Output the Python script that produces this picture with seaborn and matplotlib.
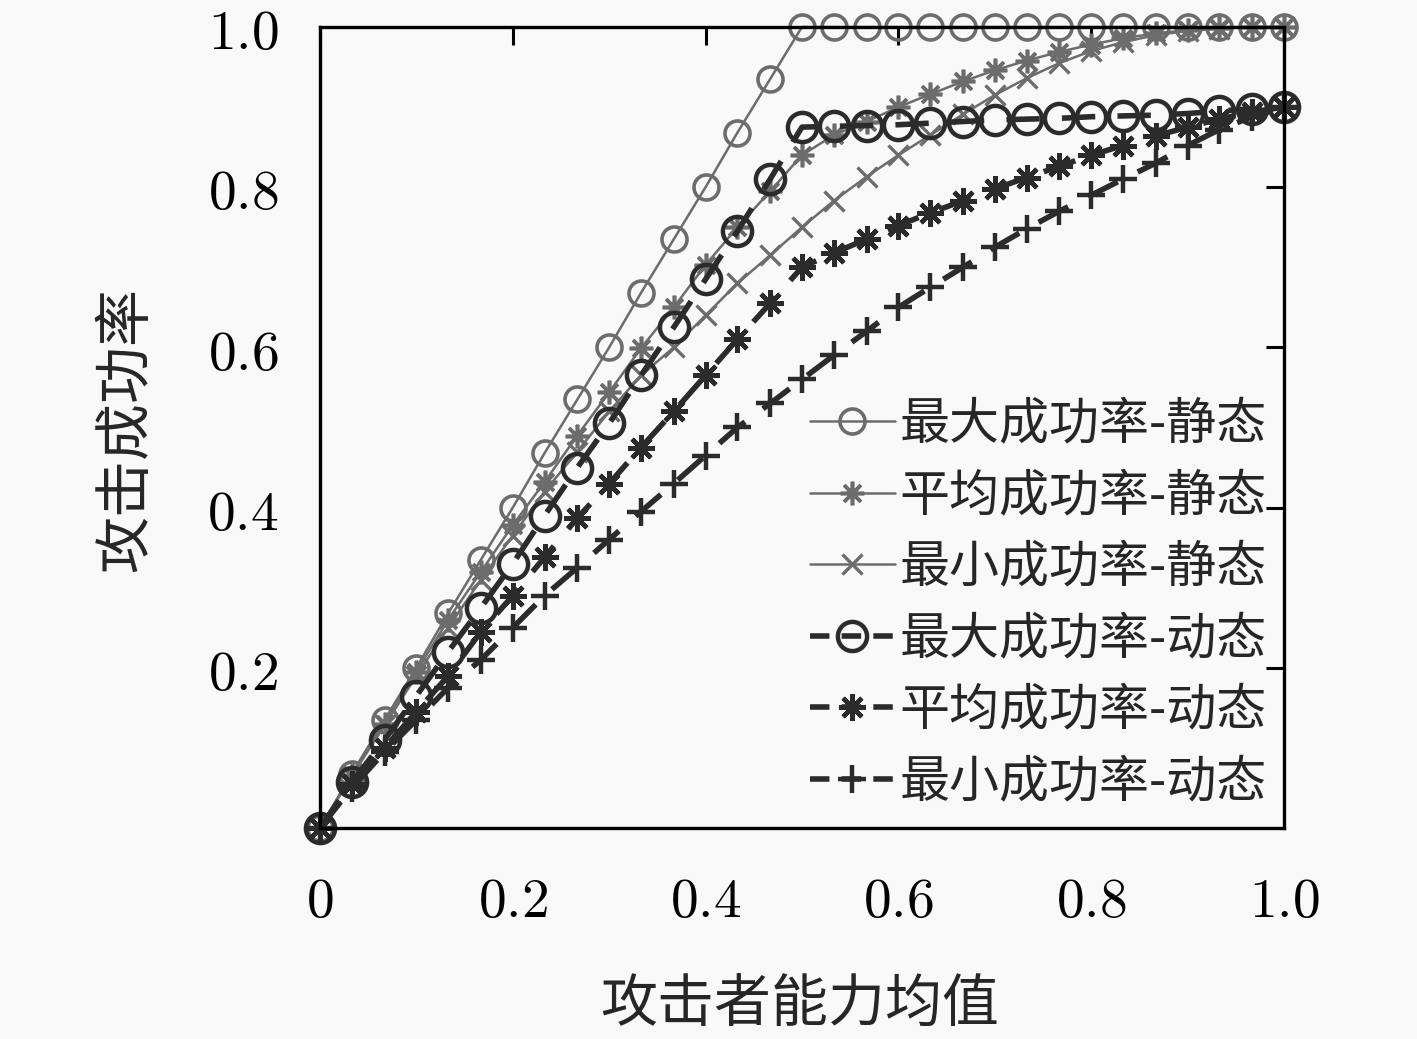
import matplotlib
matplotlib.use("Agg")
import matplotlib.pyplot as plt
import numpy as np
import pandas as pd
import seaborn as sns

# --- Data ---
ability = [0.0, 0.033, 0.067, 0.1, 0.133, 0.167, 0.2, 0.233, 0.267, 0.3,
           0.333, 0.367, 0.4, 0.433, 0.467, 0.5, 0.533, 0.567, 0.6, 0.633,
           0.667, 0.7, 0.733, 0.767, 0.8, 0.833, 0.867, 0.9, 0.933, 0.967, 1.0]

max_static = [0.0, 0.068, 0.135, 0.2, 0.268, 0.335, 0.4, 0.468, 0.535, 0.6,
              0.668, 0.735, 0.8, 0.868, 0.935, 1.0, 1.0, 1.0, 1.0, 1.0,
              1.0, 1.0, 1.0, 1.0, 1.0, 1.0, 1.0, 1.0, 1.0, 1.0, 1.0]
avg_static = [0.0, 0.066, 0.13, 0.195, 0.26, 0.32, 0.378, 0.432, 0.49, 0.544,
              0.599, 0.65, 0.703, 0.75, 0.795, 0.84, 0.865, 0.882, 0.9, 0.916,
              0.932, 0.946, 0.958, 0.969, 0.978, 0.986, 0.992, 0.996, 0.999, 1.0, 1.0]
min_static = [0.0, 0.065, 0.128, 0.19, 0.25, 0.31, 0.365, 0.42, 0.47, 0.52,
              0.565, 0.6, 0.64, 0.68, 0.715, 0.75, 0.783, 0.813, 0.84, 0.865,
              0.891, 0.915, 0.936, 0.955, 0.97, 0.981, 0.99, 0.995, 0.998, 1.0, 1.0]
max_dynamic = [0.0, 0.057, 0.11, 0.165, 0.22, 0.275, 0.33, 0.39, 0.45, 0.505,
               0.565, 0.625, 0.685, 0.745, 0.81, 0.875, 0.876, 0.877, 0.878, 0.88,
               0.882, 0.884, 0.885, 0.886, 0.888, 0.889, 0.89, 0.892, 0.895, 0.898, 0.9]
avg_dynamic = [0.0, 0.055, 0.1, 0.145, 0.19, 0.245, 0.29, 0.338, 0.387, 0.43,
               0.475, 0.52, 0.565, 0.61, 0.655, 0.7, 0.718, 0.735, 0.752, 0.768,
               0.783, 0.798, 0.812, 0.826, 0.84, 0.852, 0.864, 0.875, 0.885, 0.894, 0.9]
min_dynamic = [0.0, 0.05, 0.095, 0.135, 0.175, 0.21, 0.25, 0.29, 0.325, 0.36,
               0.395, 0.43, 0.465, 0.5, 0.53, 0.56, 0.59, 0.62, 0.65, 0.675,
               0.7, 0.725, 0.748, 0.77, 0.79, 0.81, 0.83, 0.852, 0.872, 0.888, 0.9]

series_names = ["最大成功率-静态", "平均成功率-静态", "最小成功率-静态",
                "最大成功率-动态", "平均成功率-动态", "最小成功率-动态"]
series_values = [max_static, avg_static, min_static,
                 max_dynamic, avg_dynamic, min_dynamic]

x_ticks = [0, 0.2, 0.4, 0.6, 0.8, 1.0]
x_ticklabels = ["0", "0.2", "0.4", "0.6", "0.8", "1.0"]
y_ticks = [0.2, 0.4, 0.6, 0.8, 1.0]
y_ticklabels = ["0.2", "0.4", "0.6", "0.8", "1.0"]

# --- Styling ---
STATIC_COLOR = "#6c6c6c"
DYNAMIC_COLOR = "#2b2b2b"
ASTERISK = (8, 2, 0)

STYLES = [
    dict(color=STATIC_COLOR, marker="o", markersize=18, mfc="none", mew=2.6, lw=1.8, dyn=False),
    dict(color=STATIC_COLOR, marker=ASTERISK, markersize=17, mfc="none", mew=2.6, lw=1.8, dyn=False),
    dict(color=STATIC_COLOR, marker="x", markersize=14, mfc="none", mew=2.4, lw=1.8, dyn=False),
    dict(color=DYNAMIC_COLOR, marker="o", markersize=21, mfc="none", mew=3.2, lw=4.0, dyn=True),
    dict(color=DYNAMIC_COLOR, marker=ASTERISK, markersize=19, mfc="none", mew=3.2, lw=4.0, dyn=True),
    dict(color=DYNAMIC_COLOR, marker="+", markersize=20, mfc="none", mew=3.2, lw=4.0, dyn=True),
]

sns.set_theme(style="white")
plt.rcParams["font.family"] = ["Noto Sans CJK SC", "DejaVu Sans"]
plt.rcParams["mathtext.fontset"] = "cm"

BG = "#f9f9f9"
fig = plt.figure(figsize=(14.17, 10.39), dpi=100, facecolor=BG)
ax = fig.add_axes([0.2258, 0.2031, 0.6803, 0.7709])
ax.set_facecolor(BG)

for name, values, st in zip(series_names, series_values, STYLES):
    df = pd.DataFrame({"ability": ability, "rate": values})
    sns.lineplot(
        data=df, x="ability", y="rate", ax=ax, label=name,
        color=st["color"], marker=st["marker"], markersize=st["markersize"],
        markerfacecolor=st["mfc"], markeredgecolor=st["color"],
        markeredgewidth=st["mew"], linewidth=st["lw"], errorbar=None,
        clip_on=False,
    )
    line = ax.lines[-1]
    if st["dyn"]:
        line.set_dashes((6, 4))
        line.set_dash_capstyle("butt")

ax.set_xlim(0, 1)
ax.set_ylim(0, 1)
ax.set_xticks(x_ticks, labels=[f"${t}$" for t in x_ticklabels])
ax.set_yticks(y_ticks, labels=[f"${t}$" for t in y_ticklabels])
ax.tick_params(axis="both", direction="in", length=13, width=2.2,
               top=True, right=True, labelsize=40, colors="black")
ax.tick_params(axis="x", pad=32)
ax.tick_params(axis="y", pad=30)
for spine in ax.spines.values():
    spine.set_linewidth(2.4)
    spine.set_color("black")

ax.set_xlabel("攻击者能力均值", fontsize=41)
ax.set_ylabel("攻击成功率", fontsize=41)
ax.xaxis.set_label_coords(0.498, -0.185)
ax.yaxis.set_label_coords(-0.171, 0.497)

leg = ax.legend(
    loc="upper left", bbox_to_anchor=(0.508, 0.536), frameon=False,
    fontsize=36, handlelength=1.7, handletextpad=0.1, labelspacing=0.39,
    borderpad=0, borderaxespad=0,
)
for handle in leg.get_lines()[3:]:
    handle.set_dashes((3.5, 2.2))

fig.savefig("out.png", dpi=100, facecolor=BG)
